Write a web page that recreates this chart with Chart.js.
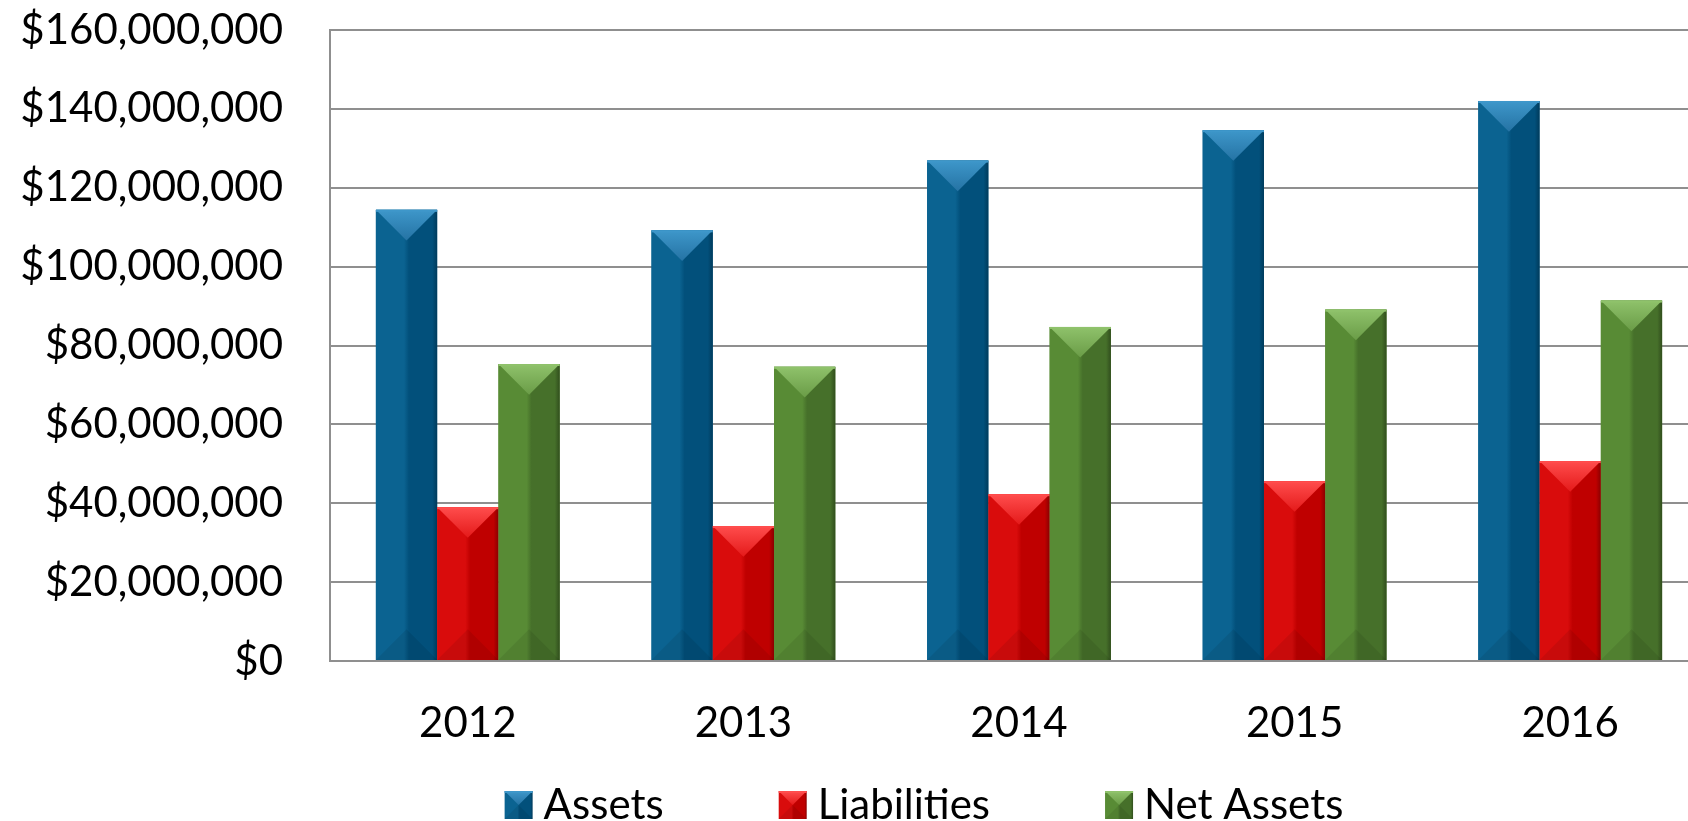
<!DOCTYPE html>
<html>
<head>
<meta charset="utf-8">
<script src="https://cdn.jsdelivr.net/npm/chart.js@4.4.1/dist/chart.umd.min.js"></script>
<style>
html, body { margin: 0; padding: 0; background: #fff; overflow: hidden; }
</style>
</head>
<body>
<canvas id="chart" width="1848" height="821"></canvas>
<script>
const years = ['2012', '2013', '2014', '2015', '2016'];
const assets = [114.4e6, 109.2e6, 126.9e6, 134.6e6, 142.0e6];
const liabilities = [39.0e6, 34.2e6, 42.3e6, 45.6e6, 50.7e6];
const netAssets = [75.3e6, 74.6e6, 84.7e6, 89.1e6, 91.4e6];
const seriesNames = ['Assets', 'Liabilities', 'Net Assets'];

// bar shading, one per series
const shades = [
    { left: '#0b6391', right: '#02507b', edge: '#003b5c', capTop: '#3e97ca', capBot: '#2573a4' },
    { left: '#d90c0c', right: '#bf0000', edge: '#8a0000', capTop: '#ff4d4d', capBot: '#e41a1a' },
    { left: '#588b35', right: '#46702a', edge: '#314e1d', capTop: '#8fc26b', capBot: '#6a9c47' }
];

const FONT = 'Lato';
const FONT_SIZE = 42;
const GRID = '#8f8f8f';

function bevel(ctx, x0, x1, top, bottom, s) {
    const w = x1 - x0;
    const h = bottom - top;
    const g = ctx.createLinearGradient(x0, 0, x1, 0);
    g.addColorStop(0, s.left);
    g.addColorStop(0.46, s.left);
    g.addColorStop(0.54, s.right);
    g.addColorStop(0.92, s.right);
    g.addColorStop(1, s.edge);
    ctx.fillStyle = g;
    ctx.fillRect(x0, top, w, h);

    const d = Math.min(w * 0.5, h / 2);
    ctx.fillStyle = 'rgba(0,0,0,0.08)';
    ctx.beginPath();
    ctx.moveTo(x0, bottom);
    ctx.lineTo(x0 + w / 2, bottom - d);
    ctx.lineTo(x1, bottom);
    ctx.closePath();
    ctx.fill();

    const cg = ctx.createLinearGradient(0, top, 0, top + d);
    cg.addColorStop(0, s.capTop);
    cg.addColorStop(1, s.capBot);
    ctx.fillStyle = cg;
    ctx.beginPath();
    ctx.moveTo(x0, top);
    ctx.lineTo(x1, top);
    ctx.lineTo(x0 + w / 2, top + d);
    ctx.closePath();
    ctx.fill();

    ctx.fillStyle = s.capTop;
    ctx.fillRect(x0, top, w, 2);
}

const bevelPlugin = {
    id: 'bevel',
    afterDatasetsDraw(chart) {
        const ctx = chart.ctx;
        ctx.save();
        chart.data.datasets.forEach((ds, i) => {
            chart.getDatasetMeta(i).data.forEach(bar => {
                const p = bar.getProps(['x', 'y', 'base', 'width'], true);
                bevel(ctx, p.x - p.width / 2, p.x + p.width / 2, p.y, p.base, shades[i]);
            });
        });
        ctx.restore();
    }
};

// legend along the bottom, centred on the full (uncropped) chart width
const legendPlugin = {
    id: 'bottomLegend',
    afterDraw(chart) {
        const ctx = chart.ctx;
        const box = 28, textGap = 39, itemGap = 115;
        const boxTop = 791, baseline = 819;
        ctx.save();
        ctx.font = FONT_SIZE + 'px ' + FONT;
        const items = chart.data.datasets.map((ds, i) => ({
            text: ds.label,
            shade: shades[i],
            w: textGap + ctx.measureText(ds.label).width
        }));
        const total = items.reduce((a, it) => a + it.w, 0) + itemGap * (items.length - 1);
        let x = chart.width / 2 - total / 2;
        items.forEach(it => {
            bevel(ctx, x, x + box, boxTop, boxTop + box, it.shade);
            ctx.fillStyle = '#000';
            ctx.textBaseline = 'alphabetic';
            ctx.textAlign = 'left';
            ctx.fillText(it.text, x + textGap, baseline);
            x += it.w + itemGap;
        });
        ctx.restore();
    }
};

new Chart(document.getElementById('chart').getContext('2d'), {
    type: 'bar',
    data: {
        labels: years,
        datasets: [
            { label: seriesNames[0], data: assets, backgroundColor: shades[0].left },
            { label: seriesNames[1], data: liabilities, backgroundColor: shades[1].left },
            { label: seriesNames[2], data: netAssets, backgroundColor: shades[2].left }
        ]
    },
    options: {
        responsive: false,
        animation: false,
        devicePixelRatio: 1,
        layout: { padding: { top: 30, left: 0, right: 140, bottom: 60 } },
        datasets: {
            bar: { barPercentage: 1, categoryPercentage: 0.667, borderWidth: 0 }
        },
        scales: {
            x: {
                grid: { display: false },
                border: { color: GRID, width: 2 },
                ticks: { color: '#000', font: { family: FONT, size: FONT_SIZE }, padding: 29 },
                afterFit(s) { s.height = 100; }
            },
            y: {
                min: 0,
                max: 160000000,
                ticks: {
                    stepSize: 20000000,
                    color: '#000',
                    font: { family: FONT, size: FONT_SIZE },
                    padding: 0,
                    callback: v => '$' + v.toLocaleString('en-US')
                },
                grid: { color: GRID, lineWidth: 2, tickLength: 47, tickColor: 'rgba(0,0,0,0)' },
                border: { color: GRID, width: 2 },
                afterFit(s) { s.width = 330; }
            }
        },
        plugins: {
            legend: { display: false },
            tooltip: { enabled: false }
        }
    },
    plugins: [bevelPlugin, legendPlugin]
});
</script>
</body>
</html>
